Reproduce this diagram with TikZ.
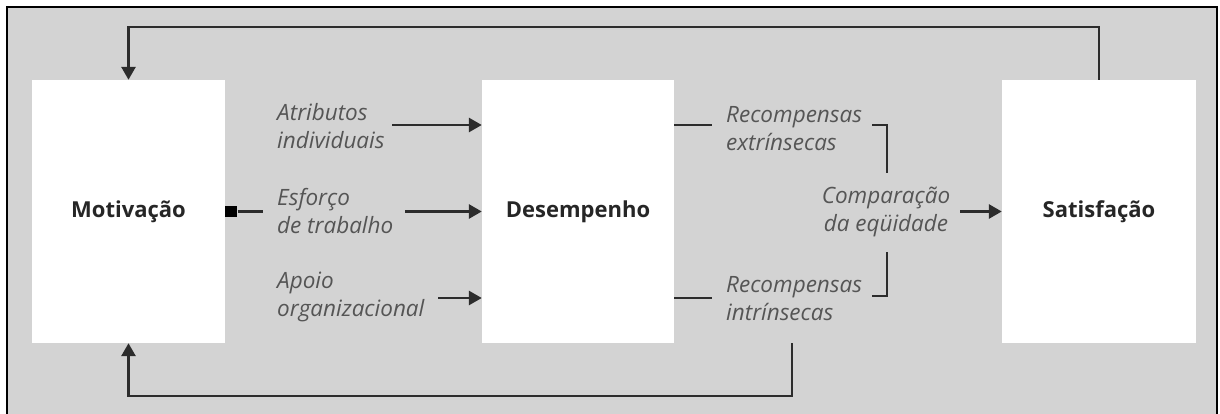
\documentclass[tikz,border=0pt]{standalone}
\usepackage{fontspec}
\setmainfont{Open Sans}
\usetikzlibrary{arrows.meta}
\definecolor{panel}{HTML}{D3D3D3}
\definecolor{ink}{HTML}{2C2C2C}
\definecolor{labelgray}{HTML}{555555}
\begin{document}
\begin{tikzpicture}[x=1pt,y=-1pt,
  block/.style={fill=white,draw=none,minimum height=263pt,inner sep=0pt,
    font=\fontsize{22}{26}\selectfont\bfseries,text=black!85},
  lbl/.style={anchor=west,align=left,inner sep=0pt,text=labelgray,
    font=\fontsize{22.5}{28}\selectfont\itshape},
  link/.style={draw=ink,line width=2.8pt},
  arr/.style={link,-{Triangle[length=13pt,width=14pt]}},
  sq/.style={fill=black,minimum width=12pt,minimum height=11pt,inner sep=0pt}]
  \useasboundingbox (0,0) rectangle (1220,414);
  % panel background and frame open at the bottom
  \fill[panel] (7,7) rectangle (1217,414);
  \draw[black,line width=2.2pt] (7,414) -- (7,7) -- (1217,7) -- (1217,414);

  % main blocks
  \node[block,minimum width=193pt] (mot) at (128.5,211.5) {Motivação};
  \node[block,minimum width=192pt] (des) at (578,211.5) {Desempenho};
  \node[block,minimum width=194pt] (sat) at (1099,211.5) {Satisfação};

  % inputs to performance
  \node[lbl] (atr) at (277,126) {Atributos\\individuais};
  \node[lbl] (esf) at (277,211) {Esforço\\de trabalho};
  \node[lbl] (apo) at (277,297) {Apoio\\organizacional};

  % rewards and equity comparison
  \node[lbl] (rext) at (726,129) {Recompensas\\extrínsecas};
  \node[lbl] (rint) at (726,299) {Recompensas\\intrínsecas};
  \node[lbl,anchor=center,align=center] (cmp) at (886,212) {Comparação\\da eqüidade};

  % effort marker on the motivation block
  \node[sq,anchor=west] (mk) at (mot.east) {};

  \draw[arr] (392,125) -- (des.west |- 0,125);
  \draw[link] (mk.east) -- ([xshift=-14pt]esf.west |- mk.east);
  \draw[arr] (405,211.5) -- (des.west);
  \draw[arr] (438,298) -- (des.west |- 0,298);

  \draw[link] (des.east |- 0,125) -- ([xshift=-14pt]rext.west |- 0,125);
  \draw[link] (des.east |- 0,298) -- ([xshift=-14pt]rint.west |- 0,298);

  % brackets gathering both rewards
  \coordinate (bt) at (887,173);
  \coordinate (bb) at (887,252);
  \draw[link] (872,125) -- (bt |- 0,125) -- (bt);
  \draw[link] (bb) -- (bb |- 0,296) -- (872,296);

  \draw[arr] (960,211.5) -- (sat.west);

  % feedback loops
  \coordinate (fb) at (792,343);
  \draw[arr] (sat.north) -- (sat.north |- 0,27) -- (mot.north |- 0,27) -- (mot.north);
  \draw[arr] (fb) -- (fb |- 0,396) -- (mot.south |- 0,396) -- (mot.south);
\end{tikzpicture}
\end{document}
